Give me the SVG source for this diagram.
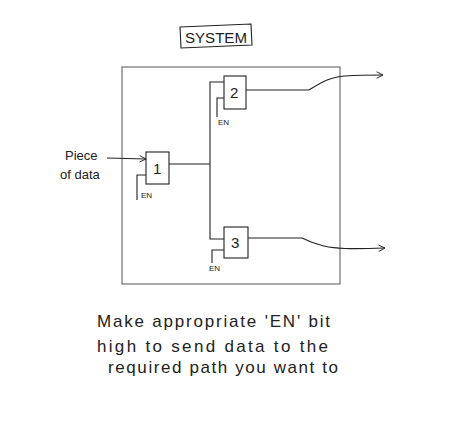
<svg xmlns="http://www.w3.org/2000/svg" width="464" height="437" viewBox="0 0 464 437">
<style>
.ln{fill:none;stroke:#222;stroke-width:1.1}
.bx{fill:none;stroke:#555;stroke-width:1}
.t{font-family:"Liberation Sans",Arial,sans-serif;fill:#222}
.en{font-family:"Liberation Sans",Arial,sans-serif;fill:#222;font-size:8px}
.big{font-family:"Liberation Sans",Arial,sans-serif;fill:#222;font-size:17px}
</style>
<defs>
<marker id="ar" viewBox="0 0 10 10" refX="9" refY="5" markerWidth="8" markerHeight="8" orient="auto" markerUnits="userSpaceOnUse">
<path d="M1,1 L9,5 L1,9" fill="none" stroke="#222" stroke-width="1.2"/>
</marker>
</defs>
<rect width="464" height="437" fill="#fff"/>
<g id="title">
<polygon class="ln" points="180,27 251,24 252,45 181,48"/>
<text class="t" x="185" y="43" font-size="14" textLength="62" lengthAdjust="spacingAndGlyphs">SYSTEM</text>
</g>
<g id="system">
<rect class="bx" x="122" y="67" width="218" height="217"/>
</g>
<g id="input">
<text class="t" x="65" y="160" font-size="13">Piece</text>
<text class="t" x="60" y="179" font-size="13">of data</text>
</g>
<g id="node1">
<rect class="ln" x="146" y="152" width="23" height="32"/>
<text class="t" x="153" y="174" font-size="15">1</text>
<text class="en" x="141" y="198">EN</text>
</g>
<g id="node2">
<rect class="ln" x="224" y="76" width="22" height="33"/>
<text class="t" x="230" y="98" font-size="15">2</text>
<text class="en" x="218" y="125">EN</text>
</g>
<g id="node3">
<rect class="ln" x="224" y="227" width="24" height="31"/>
<text class="t" x="231" y="248" font-size="15">3</text>
<text class="en" x="209" y="271">EN</text>
</g>
<g id="connectors">
<path class="ln" d="M107,158 L146,159" marker-end="url(#ar)"/>
<path class="ln" d="M146,175 H137 V200"/>
<path class="ln" d="M169,164 H210"/>
<path class="ln" d="M224,82 H210 V239 H224"/>
<path class="ln" d="M224,98 H217 V117"/>
<path class="ln" d="M224,250 H212 V263"/>
<path class="ln" d="M246,90 H309 C322,82 330,77 345,76 C360,75 372,75 383,75" marker-end="url(#ar)"/>
<path class="ln" d="M248,238 H302 C318,246 330,248 345,248.5 C360,249 372,248.5 385,248" marker-end="url(#ar)"/>
</g>
<g id="note">
<text class="big" x="97" y="327" textLength="233" lengthAdjust="spacing">Make   appropriate  'EN'  bit</text>
<text class="big" x="97" y="352" textLength="231" lengthAdjust="spacing">high  to send  data  to  the</text>
<text class="big" x="108" y="373" textLength="230" lengthAdjust="spacing">required  path  you  want  to</text>
</g>
</svg>
